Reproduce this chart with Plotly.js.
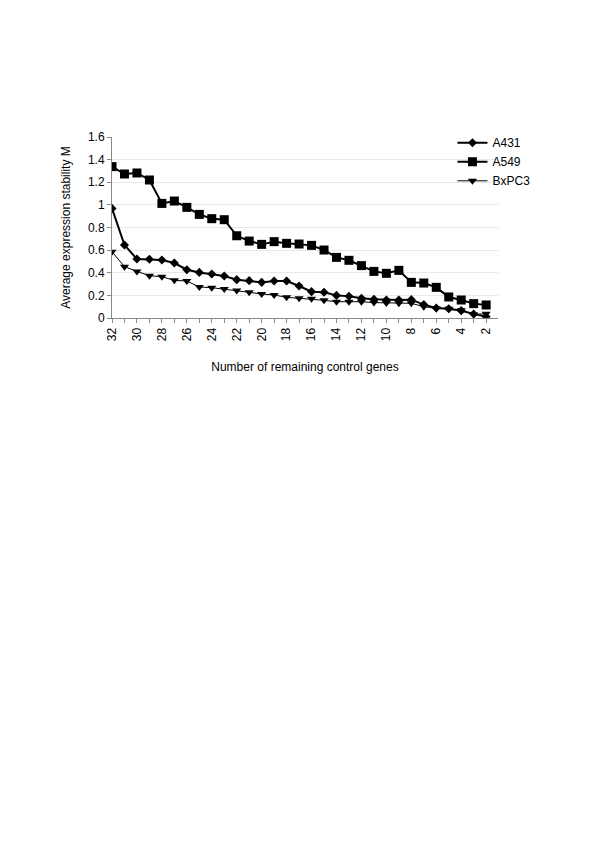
<!DOCTYPE html>
<html>
<head>
<meta charset="utf-8">
<script src="https://cdn.plot.ly/plotly-3.0.1.min.js"></script>
<style>html,body{margin:0;padding:0;background:#fff;}#chart{width:600px;height:849px;}</style>
</head>
<body>
<div id="chart"></div>
<script>
const genes = [32,31,30,29,28,27,26,25,24,23,22,21,20,19,18,17,16,15,14,13,12,11,10,9,8,7,6,5,4,3,2];
const a431 = [0.969,0.645,0.521,0.519,0.513,0.486,0.427,0.403,0.389,0.371,0.339,0.330,0.315,0.327,0.327,0.283,0.233,0.227,0.200,0.192,0.174,0.165,0.159,0.159,0.162,0.118,0.088,0.082,0.065,0.035,0.012];
const a549 = [1.338,1.273,1.282,1.220,1.013,1.034,0.978,0.916,0.878,0.869,0.727,0.680,0.651,0.675,0.660,0.654,0.642,0.601,0.536,0.510,0.463,0.412,0.395,0.421,0.315,0.309,0.271,0.186,0.159,0.127,0.115];
const bxpc3 = [0.586,0.454,0.412,0.374,0.365,0.333,0.327,0.274,0.268,0.256,0.242,0.227,0.212,0.203,0.183,0.174,0.171,0.156,0.144,0.144,0.144,0.136,0.133,0.130,0.130,0.100,0.085,0.082,0.068,0.032,0.038];
const names = ["A431","A549","BxPC3"];

const traces = [
  {x: genes, y: a431, name: names[0], mode: "lines+markers",
   line: {color: "#000", width: 2}, marker: {symbol: "diamond", size: 7, color: "#000"}},
  {x: genes, y: a549, name: names[1], mode: "lines+markers",
   line: {color: "#000", width: 2}, marker: {symbol: "square", size: 9, color: "#000"}},
  {x: genes, y: bxpc3, name: names[2], mode: "lines+markers",
   line: {color: "#000", width: 1}, marker: {symbol: "triangle-down", size: 8, color: "#000"}}
];

const layout = {
  width: 600, height: 849,
  margin: {l: 112, r: 102, t: 137, b: 531},
  paper_bgcolor: "#fff", plot_bgcolor: "#fff",
  font: {family: "Liberation Sans, Arial, sans-serif", size: 12, color: "#000"},
  showlegend: true,
  legend: {x: 0.882, y: 1.048, xanchor: "left", yanchor: "top",
    font: {size: 12}, tracegroupgap: 0, itemwidth: 30, bgcolor: "rgba(0,0,0,0)"},
  xaxis: {
    range: [32, 1.05], tickmode: "linear", tick0: 2, dtick: 2,
    tickangle: -90, ticks: "outside", ticklen: 4, tickcolor: "#888",
    minor: {dtick: 1, tick0: 2, ticks: "outside", ticklen: 4, tickcolor: "#888", showgrid: false},
    showgrid: false, zeroline: false, showline: true, linecolor: "#888", linewidth: 1,
    title: {text: "Number of remaining control genes", font: {size: 12}, standoff: 22}
  },
  yaxis: {
    range: [0, 1.6], tickmode: "linear", tick0: 0, dtick: 0.2,
    tickformat: "~g", ticks: "outside", ticklen: 4, tickcolor: "#888",
    showgrid: true, gridcolor: "#e8e8e8", gridwidth: 1,
    zeroline: false, showline: true, linecolor: "#888", linewidth: 1,
    title: {text: "Average expression stability M", font: {size: 12}, standoff: 14}
  }
};

Plotly.newPlot("chart", traces, layout, {displayModeBar: false, staticPlot: true});
</script>
</body>
</html>
